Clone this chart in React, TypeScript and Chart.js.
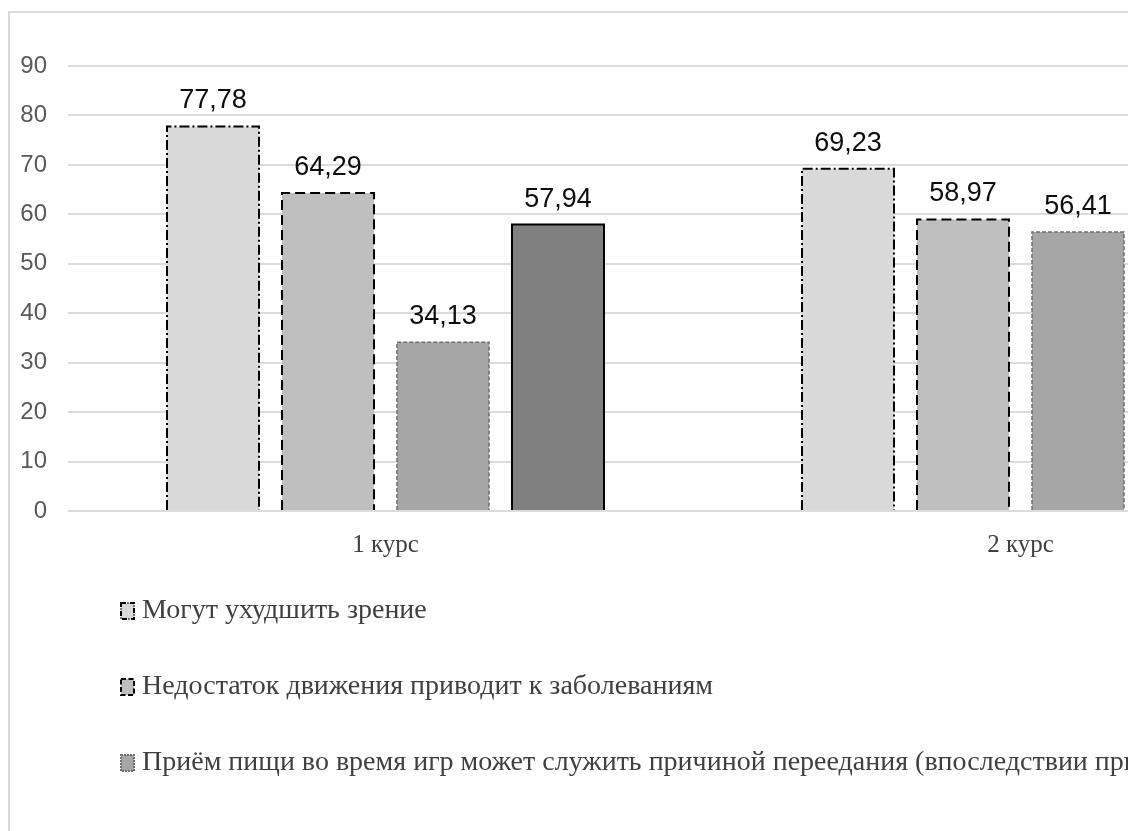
import React, { useEffect, useRef } from "react";
import { Chart, registerables } from "chart.js";

Chart.register(...registerables);

const categories = ["1 курс", "2 курс"];
const seriesNames = [
  "Могут ухудшить зрение",
  "Недостаток движения приводит к заболеваниям",
  "Приём пищи во время игр может служить причиной переедания (впоследствии приводит к ожирению)",
  "Другое",
];
const series1 = [77.78, 69.23];
const series2 = [64.29, 58.97];
const series3 = [34.13, 56.41];
const series4: (number | null)[] = [57.94, null];
const yTicks = [0, 10, 20, 30, 40, 50, 60, 70, 80, 90];

const fills = ["#d9d9d9", "#bfbfbf", "#a6a6a6", "#808080"];
const strokes = ["#000000", "#000000", "#6e6e6e", "#000000"];
const strokeWidths = [2, 2, 1.5, 2];
const dashes: number[][] = [[10, 3, 2, 3], [10, 5], [4, 2], []];

const fmt = (v: number) => v.toFixed(2).replace(".", ",");

const barOutlinePlugin = {
  id: "barOutline",
  afterDatasetsDraw(chart: any) {
    const ctx = chart.ctx;
    chart.data.datasets.forEach((ds: any, di: number) => {
      const meta = chart.getDatasetMeta(di);
      meta.data.forEach((el: any, i: number) => {
        const v = ds.data[i];
        if (v === null || v === undefined) return;
        const { x, y, base, width } = el.getProps(["x", "y", "base", "width"], true);
        const l = x - width / 2;
        const r = x + width / 2;
        ctx.save();
        ctx.strokeStyle = strokes[di];
        ctx.lineWidth = strokeWidths[di];
        ctx.setLineDash(dashes[di]);
        ctx.beginPath();
        ctx.moveTo(l, base);
        ctx.lineTo(l, y);
        ctx.lineTo(r, y);
        ctx.lineTo(r, base);
        ctx.stroke();
        ctx.restore();
        // value label
        ctx.save();
        ctx.font = "27px 'Liberation Sans', Arial, sans-serif";
        ctx.fillStyle = "#0d0d0d";
        ctx.textAlign = "center";
        ctx.textBaseline = "alphabetic";
        ctx.fillText(fmt(v), x, y - 18);
        ctx.restore();
      });
    });
  },
};

const legendPlugin = {
  id: "stackedLegend",
  afterDraw(chart: any) {
    const ctx = chart.ctx;
    const startY = chart.chartArea.bottom + 100;
    chart.data.datasets.forEach((ds: any, di: number) => {
      const cy = startY + di * 76;
      // like the office legend, omit entries that do not fit in the chart box
      if (cy + 14 > chart.height) return;
      ctx.save();
      ctx.fillStyle = fills[di];
      ctx.fillRect(121, cy - 8, 13, 16);
      ctx.strokeStyle = strokes[di];
      ctx.lineWidth = 2;
      ctx.setLineDash(dashes[di].map((d) => d * 0.5));
      ctx.strokeRect(121, cy - 8, 13, 16);
      ctx.restore();
      ctx.save();
      ctx.font = "28px 'Liberation Serif', 'Times New Roman', serif";
      ctx.fillStyle = "#404040";
      ctx.textAlign = "left";
      ctx.textBaseline = "middle";
      ctx.fillText(ds.label, 142, cy);
      ctx.restore();
    });
  },
};

export default function App() {
  const ref = useRef<HTMLCanvasElement | null>(null);
  useEffect(() => {
    if (!ref.current) return;
    const chart = new Chart(ref.current, {
      type: "bar",
      data: {
        labels: categories,
        datasets: [series1, series2, series3, series4].map((d, i) => ({
          label: seriesNames[i],
          data: d,
          backgroundColor: fills[i],
          borderWidth: 0,
          barPercentage: 0.8,
          categoryPercentage: 0.7244,
        })),
      },
      options: {
        animation: false,
        responsive: false,
        devicePixelRatio: 1,
        layout: { padding: { left: 0, right: 62, top: 66, bottom: 260 } },
        plugins: {
          legend: { display: false },
          tooltip: { enabled: false },
        },
        scales: {
          x: {
            grid: { display: false },
            border: { display: false },
            ticks: {
              color: "#404040",
              padding: 11,
              font: { family: "'Liberation Serif', 'Times New Roman', serif", size: 25 },
            },
            afterFit: (axis: any) => {
              axis.height = 60;
            },
          },
          y: {
            min: 0,
            max: 90,
            afterBuildTicks: (axis: any) => {
              axis.ticks = yTicks.map((v) => ({ value: v }));
            },
            grid: { color: "#dcdcdc", lineWidth: 2, drawTicks: false },
            border: { display: false },
            ticks: {
              color: "#595959",
              padding: 21,
              font: { family: "'Liberation Sans', Arial, sans-serif", size: 24 },
            },
            afterFit: (axis: any) => {
              axis.width = 68;
            },
          },
        },
      },
      plugins: [barOutlinePlugin, legendPlugin],
    });
    return () => chart.destroy();
  }, []);

  return (
    <div
      style={{
        position: "fixed",
        left: 0,
        top: 0,
        width: 1128,
        height: 831,
        overflow: "hidden",
        background: "#ffffff",
      }}
    >
      <div
        style={{
          position: "absolute",
          left: 8,
          top: 11,
          width: 1600,
          height: 1200,
          borderLeft: "2px solid #d9d9d9",
          borderTop: "2px solid #d9d9d9",
        }}
      />
      <canvas
        ref={ref}
        width={1400}
        height={831}
        style={{ position: "absolute", left: 0, top: 0, width: 1400, height: 831 }}
      />
    </div>
  );
}
